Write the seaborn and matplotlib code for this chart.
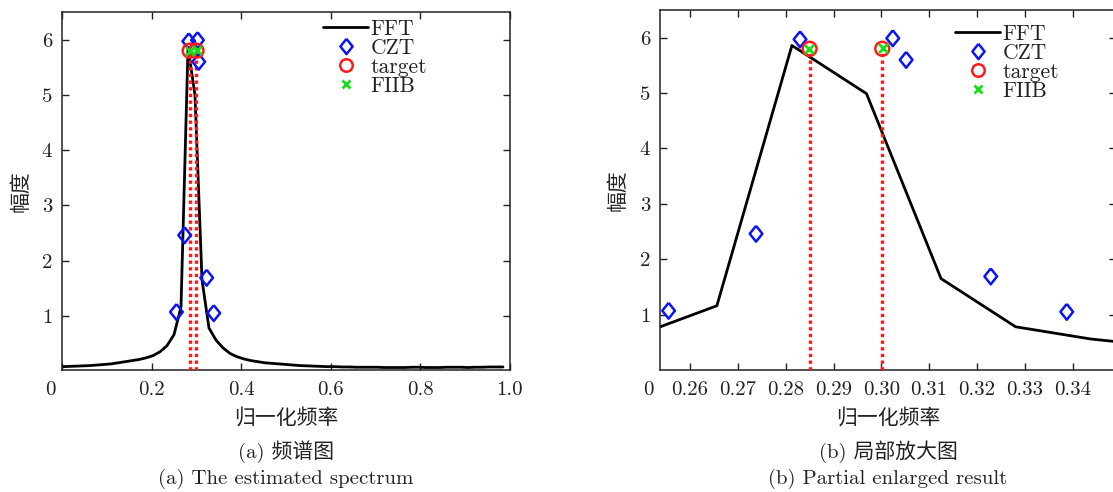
import matplotlib
matplotlib.use("Agg")
import matplotlib.pyplot as plt
import seaborn as sns
import pandas as pd
from matplotlib.lines import Line2D

# ---------------- data ----------------
fft_freq = [0.0000, 0.0156, 0.0313, 0.0469, 0.0625, 0.0781, 0.0938, 0.1094,
            0.1250, 0.1406, 0.1563, 0.1719, 0.1875, 0.2031, 0.2188, 0.2344,
            0.2500, 0.2656, 0.2813, 0.2969, 0.3125, 0.3281, 0.3438, 0.3594,
            0.3750, 0.3906, 0.4063, 0.4219, 0.4375, 0.4531, 0.4688, 0.4844,
            0.5000, 0.5156, 0.5313, 0.5469, 0.5625, 0.5781, 0.5938, 0.6094,
            0.6250, 0.6406, 0.6563, 0.6719, 0.6875, 0.7031, 0.7188, 0.7344,
            0.7500, 0.7656, 0.7813, 0.7969, 0.8125, 0.8281, 0.8438, 0.8594,
            0.8750, 0.8906, 0.9063, 0.9219, 0.9375, 0.9531, 0.9688, 0.9844]
fft_amp = [0.08, 0.085, 0.09, 0.095, 0.10, 0.11, 0.12, 0.13,
           0.15, 0.17, 0.19, 0.21, 0.24, 0.28, 0.35, 0.46,
           0.66, 1.16, 5.86, 4.99, 1.65, 0.78, 0.56, 0.42,
           0.32, 0.26, 0.22, 0.19, 0.17, 0.15, 0.14, 0.13,
           0.12, 0.11, 0.10, 0.095, 0.09, 0.085, 0.08, 0.08,
           0.075, 0.075, 0.07, 0.07, 0.07, 0.07, 0.065, 0.065,
           0.065, 0.065, 0.07, 0.07, 0.065, 0.065, 0.065, 0.07,
           0.07, 0.07, 0.065, 0.07, 0.07, 0.075, 0.075, 0.075]

czt_freq = [0.2555, 0.2738, 0.2830, 0.3024, 0.3052, 0.3229, 0.3388]
czt_amp = [1.07, 2.46, 5.97, 5.99, 5.60, 1.69, 1.05]

target_freq = [0.2850, 0.3002]
target_amp = [5.80, 5.80]

fiib_freq = [0.2848, 0.3004]
fiib_amp = [5.80, 5.81]

left_xticks = [0.0, 0.2, 0.4, 0.6, 0.8, 1.0]
left_xticklabels = ["", "0.2", "0.4", "0.6", "0.8", "1.0"]
right_xticks = [0.26, 0.27, 0.28, 0.29, 0.30, 0.31, 0.32, 0.33, 0.34]
right_xticklabels = ["0.26", "0.27", "0.28", "0.29", "0.30", "0.31", "0.32", "0.33", "0.34"]
yticks = [1, 2, 3, 4, 5, 6]
ytick_labels = ["1", "2", "3", "4", "5", "6"]

legend_labels = ["FFT", "CZT", "target", "FIIB"]
xlabel_text = "归一化频率"
ylabel_text = "幅度"
captions_a = ["(a) 频谱图", "(a) The estimated spectrum"]
captions_b = ["(b) 局部放大图", "(b) Partial enlarged result"]

# ---------------- style ----------------
sns.set_theme(style="ticks")
plt.rcParams["font.family"] = ["cmr10", "Noto Sans CJK SC", "DejaVu Sans"]
plt.rcParams["axes.unicode_minus"] = False
plt.rcParams["mathtext.fontset"] = "cm"
plt.rcParams["axes.formatter.use_mathtext"] = True

fft_df = pd.DataFrame({"f": fft_freq, "a": fft_amp})
czt_df = pd.DataFrame({"f": czt_freq, "a": czt_amp})
tgt_df = pd.DataFrame({"f": target_freq, "a": target_amp})
fiib_df = pd.DataFrame({"f": fiib_freq, "a": fiib_amp})

diamond = [(0, 1), (0.8, 0), (0, -1), (-0.8, 0), (0, 1)]
blue = "#0a14f5"
red = "#ff1a1a"
green = "#14e014"

W, H = 1113, 492
fig = plt.figure(figsize=(W / 100, H / 100), dpi=100)
ax1 = fig.add_axes([62 / W, 1 - 370 / H, 448 / W, 358 / H])
ax2 = fig.add_axes([660 / W, 1 - 370 / H, 456 / W, 360 / H])

TICK_FS = 15


def draw(ax, ylim_low):
    sns.lineplot(data=fft_df, x="f", y="a", ax=ax, color="black", lw=2.0,
                 sort=False, estimator=None)
    ax.vlines(target_freq, ylim_low, target_amp, colors=red,
              linestyles=(0, (1, 1)), lw=2.4, zorder=3)
    sns.scatterplot(data=czt_df, x="f", y="a", ax=ax, marker=diamond, s=130,
                    color=blue, facecolor="none", edgecolor=blue,
                    linewidth=1.8, zorder=4)
    sns.scatterplot(data=tgt_df, x="f", y="a", ax=ax, marker="o", s=100,
                    color=red, facecolor="none", edgecolor=red,
                    linewidth=1.8, zorder=5)
    sns.scatterplot(data=fiib_df, x="f", y="a", ax=ax, marker="x", s=40,
                    color=green, edgecolor=green, linewidth=2.0, zorder=6)
    ax.set_ylim(ylim_low, 6.5)
    ax.set_yticks(yticks)
    ax.set_yticklabels(ytick_labels)
    ax.tick_params(axis="both", which="both", direction="in", length=5,
                   width=1.0, top=True, right=True, labelsize=TICK_FS,
                   color="#222222", labelcolor="#222222")
    ax.tick_params(axis="x", pad=8)
    ax.tick_params(axis="y", pad=7)
    for s in ax.spines.values():
        s.set_linewidth(1.1)
        s.set_color("#222222")
        s.set_visible(True)
    ax.set_xlabel(xlabel_text, fontsize=15, color="#222222")
    ax.set_ylabel(ylabel_text, fontsize=15, color="#222222")
    ax.grid(False)


draw(ax1, 0.02)
ax1.set_xlim(0, 1.0)
ax1.set_xticks(left_xticks)
ax1.set_xticklabels(left_xticklabels)
ax1.text(-12 / 448, -20 / 358, "0", transform=ax1.transAxes, ha="center",
         va="center", fontsize=TICK_FS, color="#222222")
ax1.xaxis.set_label_coords(0.5, -0.105)
ax1.yaxis.set_label_coords(-0.07, 0.5)

draw(ax2, 0.0)
ax2.set_xlim(0.2537, 0.3491)
ax2.set_xticks(right_xticks)
ax2.set_xticklabels(right_xticklabels)
ax2.text(-12 / 456, -20 / 360, "0", transform=ax2.transAxes, ha="center",
         va="center", fontsize=TICK_FS, color="#222222")
ax2.xaxis.set_label_coords(0.5, -0.105)
ax2.yaxis.set_label_coords(-0.072, 0.5)


def legend_handles():
    return [
        Line2D([], [], color="black", lw=2.0),
        Line2D([], [], ls="", marker=diamond, ms=11, mfc="none", mec=blue, mew=1.8),
        Line2D([], [], ls="", marker="o", ms=9, mfc="none", mec=red, mew=1.8),
        Line2D([], [], ls="", marker="x", ms=6, mec=green, mew=2.0),
    ]


for ax, bx, by in [(ax1, (323 - 62) / 448, (370 - 19) / 358),
                   (ax2, (955 - 660) / 456, (370 - 24) / 360)]:
    ax.legend(legend_handles(), legend_labels, loc="upper left",
              bbox_to_anchor=(bx, by), frameon=False, fontsize=15.5,
              borderaxespad=0, borderpad=0, labelspacing=-0.02,
              handlelength=2.1, handletextpad=0.1,
              labelcolor="#222222")

# captions
cx1 = (62 + 510) / 2 / W
cx2 = (660 + 1116) / 2 / W
fig.text(cx1, 1 - 452 / H, captions_a[0], ha="center", va="center", fontsize=15, color="#222222")
fig.text(cx1, 1 - 479 / H, captions_a[1], ha="center", va="center", fontsize=15, color="#222222")
fig.text(cx2, 1 - 452 / H, captions_b[0], ha="center", va="center", fontsize=15, color="#222222")
fig.text(cx2, 1 - 479 / H, captions_b[1], ha="center", va="center", fontsize=15, color="#222222")

fig.savefig("out.png", dpi=100)
